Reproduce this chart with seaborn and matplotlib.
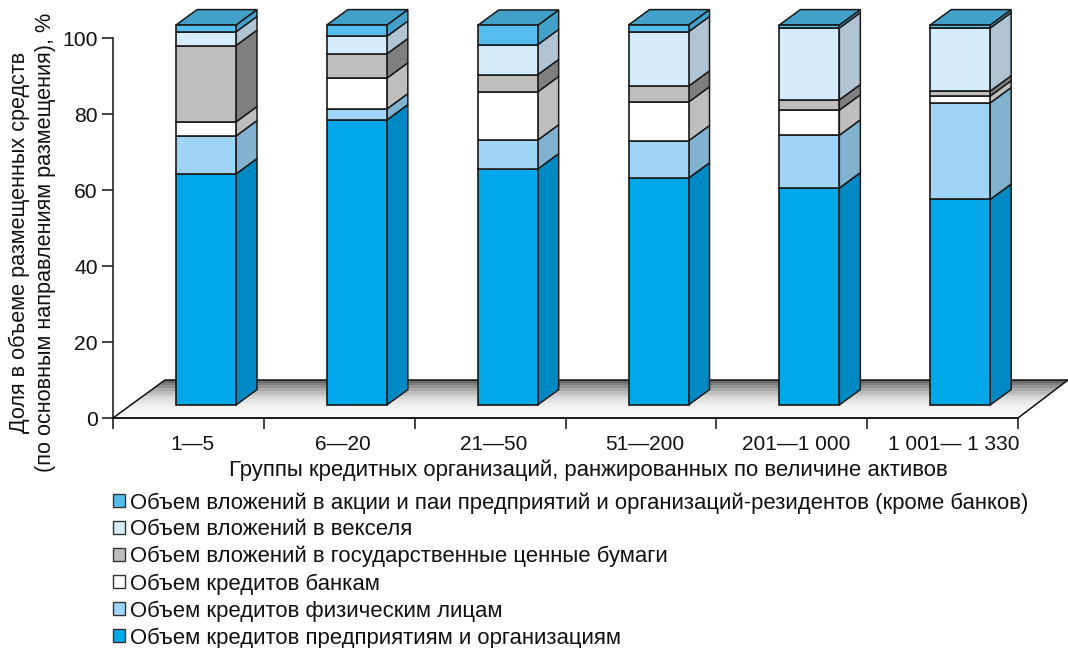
import numpy as np
import matplotlib
matplotlib.use("Agg")
import matplotlib.pyplot as plt
from matplotlib.patches import Polygon, Patch
from matplotlib.colors import LinearSegmentedColormap
import seaborn as sns

groups = ["1—5", "6—20", "21—50", "51—200", "201—1 000", "1 001— 1 330"]
corp_loans = [60.8, 75.0, 62.1, 59.7, 57.1, 54.1]
retail_loans = [10.0, 2.9, 7.6, 9.8, 13.9, 25.4]
bank_loans = [3.7, 8.1, 12.7, 10.2, 6.6, 1.8]
gov_securities = [20.1, 6.4, 4.5, 4.2, 2.7, 1.3]
bills = [3.6, 4.6, 7.9, 14.3, 18.9, 16.6]
equities = [1.8, 3.0, 5.1, 1.8, 0.8, 0.8]

series_names = [
    "Объем кредитов предприятиям и организациям",
    "Объем кредитов физическим лицам",
    "Объем кредитов банкам",
    "Объем вложений в государственные ценные бумаги",
    "Объем вложений в векселя",
    "Объем вложений в акции и паи предприятий и организаций-резидентов (кроме банков)",
]
series_values = [corp_loans, retail_loans, bank_loans, gov_securities, bills, equities]
front_colors = ["#00A8EA", "#9FD4F6", "#FFFFFF", "#BEBEBE", "#D3EBFB", "#55BDEE"]
side_colors = ["#0089C2", "#82B2D0", "#BEBEBE", "#7F7F7F", "#B0C4D4", "#43A0C9"]
top_color = "#43A0C9"
edge = "#1A1A1A"
xlabel = "Группы кредитных организаций, ранжированных по величине активов"
ylabel = "Доля в объеме размещенных средств\n(по основным направлениям размещения), %"

sns.set_theme(style="white")
plt.rcParams["font.family"] = ["Liberation Sans", "DejaVu Sans"]

W, H = 1068, 648
fig = plt.figure(figsize=(W / 100, H / 100), dpi=100)
ax = fig.add_axes([113 / W, 1 - 418 / H, 905 / W, 380 / H])

px_per_cat = 905 / 6
xmin = (113 - 206) / px_per_cat
xmax = xmin + 6
width = 60 / px_per_cat
depth_x = 21 / px_per_cat
depth_y = 15.4 / 3.8
base = 13 / 3.8

# floor
floor_dx, floor_dy = 52 / px_per_cat, 10.0
floor_pts = [(xmin, 0), (xmin + floor_dx, floor_dy), (xmax + floor_dx - 2 / px_per_cat, floor_dy), (xmax, 0)]
floor_patch = Polygon(floor_pts, closed=True, facecolor="none", edgecolor="#111111", lw=1.1,
                      clip_on=False, zorder=1, joinstyle="round")
ax.add_patch(floor_patch)
cmap = LinearSegmentedColormap.from_list("floor", ["#FBFBFB", "#F4F4F4", "#E0E0E0", "#B0B0B0", "#6A6A6A"])
shade = np.linspace(0, 1, 14)[:, None]
im = ax.imshow(shade, extent=(xmin, xmax + floor_dx, 0, floor_dy), origin="lower", aspect="auto",
               cmap=cmap, vmin=0, vmax=1, zorder=0.5, interpolation="nearest")
im.set_clip_path(floor_patch)
im.set_clip_box(fig.bbox)

# stacked bars
bottom = np.full(len(groups), base)
for name, vals, fc, sc in zip(series_names, series_values, front_colors, side_colors):
    vals = np.array(vals)
    sns.barplot(x=groups, y=vals, bottom=bottom, color=fc, saturation=1, width=width,
                edgecolor=edge, linewidth=1.2, label=name, ax=ax, clip_on=False, zorder=3)
    for i, (b, v) in enumerate(zip(bottom, vals)):
        xr = i + width / 2
        ax.add_patch(Polygon([(xr, b), (xr + depth_x, b + depth_y), (xr + depth_x, b + v + depth_y), (xr, b + v)],
                             closed=True, facecolor=sc, edgecolor=edge, lw=1.1, clip_on=False, zorder=2.5))
    bottom = bottom + vals
for i, b in enumerate(bottom):
    xl, xr = i - width / 2, i + width / 2
    ax.add_patch(Polygon([(xl, b), (xl + depth_x, b + depth_y), (xr + depth_x, b + depth_y), (xr, b)],
                         closed=True, facecolor=top_color, edgecolor=edge, lw=1.1, clip_on=False, zorder=2.5))

ax.set_xlim(xmin, xmax)
ax.set_ylim(0, 100)
ax.set_yticks(np.arange(0, 101, 20))
ax.set_xticks(xmin + np.arange(7))
ax.set_xticklabels([])
centers = np.arange(6) + xmin + 0.5 + 4 / px_per_cat
centers[-1] += 7 / px_per_cat
ax.set_xticks(centers, minor=True)
ax.set_xticklabels(groups, minor=True)
ax.tick_params(axis="x", which="major", length=8, width=1.1, color="#111111", bottom=True)
ax.tick_params(axis="x", which="minor", length=0, pad=12, labelsize=15, labelcolor="#111111")
ax.tick_params(axis="y", length=8, width=1.1, color="#111111", left=True, labelsize=15.2, pad=3, labelcolor="#111111")
for s in ("top", "right"):
    ax.spines[s].set_visible(False)
for s in ("left", "bottom"):
    ax.spines[s].set_color("#111111")
    ax.spines[s].set_linewidth(1.1)
ax.set_facecolor("none")

ax.set_xlabel(xlabel, fontsize=15.9, color="#111111", labelpad=0)
ax.xaxis.set_label_coords((588 - 113) / 905, -(470 - 418) / 380, transform=ax.transAxes)
ax.xaxis.label.set_verticalalignment("center")
ax.set_ylabel(ylabel, fontsize=15.6, color="#111111", linespacing=1.3)
ax.yaxis.label.set_verticalalignment("center")
ax.yaxis.set_label_coords((32 - 113) / 905, (418 - 242) / 380, transform=ax.transAxes)

handles = [Patch(facecolor=f, edgecolor="#333333", lw=1.0, label=n)
           for n, f in zip(series_names, front_colors)][::-1]
ax.legend(handles=handles, loc="upper left", bbox_to_anchor=(113 / W, 1 - 492 / H), bbox_transform=fig.transFigure,
          frameon=False, fontsize=15.9, ncol=1, borderpad=0, borderaxespad=0, handlelength=0.55, handleheight=0.55,
          handletextpad=0.23, labelspacing=0.26, labelcolor="#111111")

fig.savefig("out.png", dpi=100)
